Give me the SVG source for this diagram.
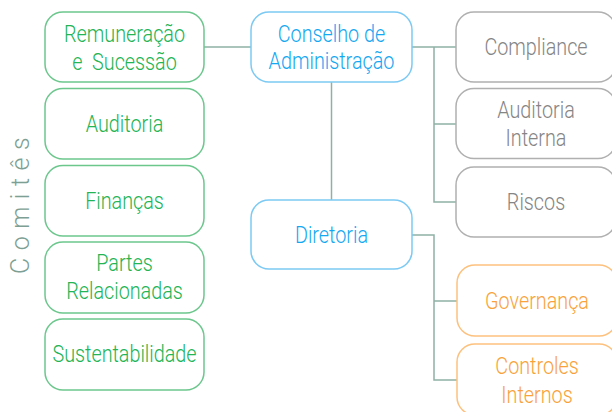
<svg xmlns="http://www.w3.org/2000/svg" width="612" height="412" viewBox="0 0 612 412">
<style>
.box{fill:#fff;stroke-width:1.5}
.g{stroke:#6cc78d}
.b{stroke:#7ccaf4}
.y{stroke:#b0b0b0}
.o{stroke:#fdc17d}
text{font-family:Roboto,"Liberation Sans",sans-serif;font-size:23px;font-weight:300;text-anchor:middle}
.tg{fill:#22b455}
.tb{fill:#14a7f2}
.ty{fill:#858585}
.to{fill:#f9a23a}
.conn{fill:none;stroke:#8fb0a5;stroke-width:1.5}
</style>
<rect width="612" height="412" fill="#fff"/>
<g id="connectors" class="conn">
<path d="M204 47H251"/>
<path d="M331.5 82V200"/>
<path d="M412 47H456"/>
<path d="M434 47V202H456"/>
<path d="M434 124H456"/>
<path d="M412 235H434V380H457"/>
<path d="M434 301H457"/>
</g>
<text x="0" y="0" transform="translate(28.5,202) rotate(-90)" style="font-size:25px;letter-spacing:7.5px;fill:#7d9f94">Comitês</text>
<g id="n-remuneracao"><rect class="box g" x="45" y="12" width="159" height="70" rx="18"/>
<text class="tg" transform="translate(124.5,42) scale(0.86,1)">Remuneração</text>
<text class="tg" transform="translate(124.5,70) scale(0.86,1)">e&#160; Sucessão</text></g>
<g id="n-auditoria"><rect class="box g" x="45" y="88.5" width="159" height="70.5" rx="18"/>
<text class="tg" transform="translate(124.5,132) scale(0.86,1)">Auditoria</text></g>
<g id="n-financas"><rect class="box g" x="45" y="165.5" width="159" height="70.5" rx="18"/>
<text class="tg" transform="translate(124.5,208.5) scale(0.86,1)">Finanças</text></g>
<g id="n-partes"><rect class="box g" x="45" y="242" width="159" height="71" rx="18"/>
<text class="tg" transform="translate(124.5,271) scale(0.86,1)">Partes</text>
<text class="tg" transform="translate(124.5,299) scale(0.86,1)">Relacionadas</text></g>
<g id="n-sustentabilidade"><rect class="box g" x="45" y="319" width="159" height="71" rx="18"/>
<text class="tg" transform="translate(124.5,362) scale(0.86,1)">Sustentabilidade</text></g>
<g id="n-conselho"><rect class="box b" x="251" y="12" width="161" height="70" rx="18"/>
<text class="tb" transform="translate(331.5,41.5) scale(0.86,1)">Conselho de</text>
<text class="tb" transform="translate(331.5,69) scale(0.86,1)">Administração</text></g>
<g id="n-diretoria"><rect class="box b" x="251" y="200" width="161" height="69" rx="18"/>
<text class="tb" transform="translate(331.5,243) scale(0.86,1)">Diretoria</text></g>
<g id="n-compliance"><rect class="box y" x="456" y="12" width="160" height="70" rx="18"/>
<text class="ty" transform="translate(536,55) scale(0.86,1)">Compliance</text></g>
<g id="n-auditoria-interna"><rect class="box y" x="456" y="88.5" width="160" height="70" rx="18"/>
<text class="ty" transform="translate(536,118) scale(0.86,1)">Auditoria</text>
<text class="ty" transform="translate(536,146) scale(0.86,1)">Interna</text></g>
<g id="n-riscos"><rect class="box y" x="456" y="167" width="160" height="70" rx="18"/>
<text class="ty" transform="translate(536,210) scale(0.86,1)">Riscos</text></g>
<g id="n-governanca"><rect class="box o" x="457" y="265" width="160" height="71" rx="18"/>
<text class="to" transform="translate(537,308.5) scale(0.86,1)">Governança</text></g>
<g id="n-controles"><rect class="box o" x="457" y="344" width="160" height="71" rx="18"/>
<text class="to" transform="translate(537,374) scale(0.86,1)">Controles</text>
<text class="to" transform="translate(537,402.5) scale(0.86,1)">Internos</text></g>
</svg>
